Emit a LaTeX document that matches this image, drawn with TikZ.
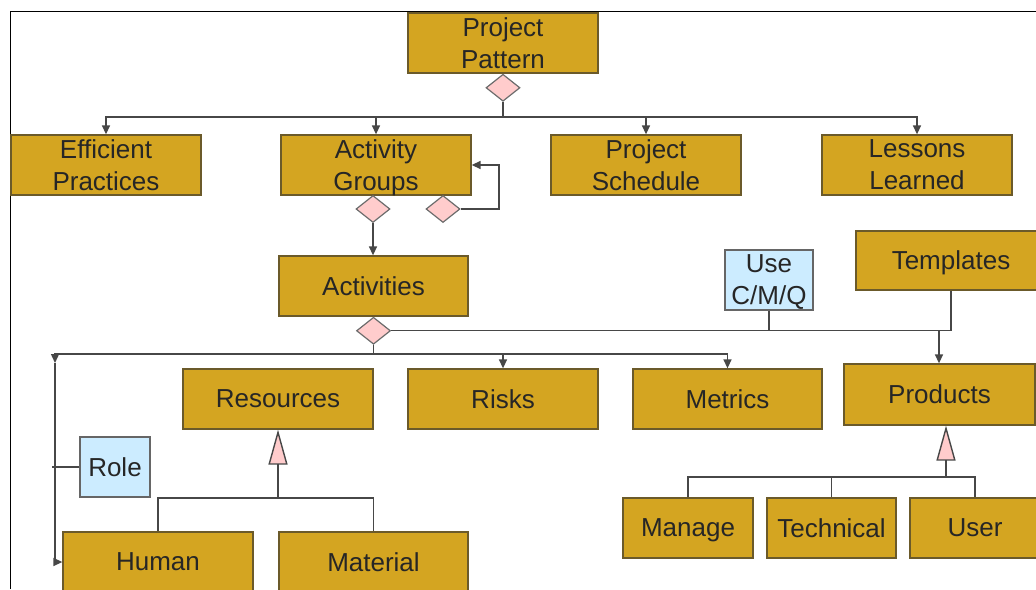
\documentclass[tikz,border=0pt]{standalone}
\usepackage{fontspec}
\setmainfont{Liberation Sans}
\usetikzlibrary{positioning,shapes.geometric,arrows.meta}
\definecolor{gold}{HTML}{D4A521}
\definecolor{goldedge}{HTML}{6B5A2A}
\definecolor{pinkd}{HTML}{FFCCCC}
\definecolor{bluebox}{HTML}{CCECFF}
\definecolor{linegray}{HTML}{474747}
\newcommand{\nodepth}[1]{\raisebox{0pt}[\height][0pt]{#1}}

\begin{document}
\begin{tikzpicture}[x=1pt,y=-1pt,font=\fontsize{26}{32}\selectfont,
        box/.style={draw=goldedge,fill=gold,line width=1.3pt,minimum width=190pt,minimum height=60pt,inner sep=0pt,align=center,text=black!85},
        note/.style={box,fill=bluebox,draw=gray!80!black},
        dia/.style={diamond,draw=linegray!80,fill=pinkd,line width=1.2pt,minimum width=34pt,minimum height=27pt,inner sep=0pt},
        wire/.style={draw=linegray,line width=1.4pt},
        arr/.style={wire,-{Triangle[length=9pt,width=8pt]}},
        gen/.style={wire,-{Triangle[length=35pt,width=19pt,fill=pinkd]}}]
    \useasboundingbox (0,0) rectangle (1036,589);
    \draw[line width=1pt] (10,589) -- (10,11) -- (1036,11);

    \node[box] (pattern) at (503,43) {Project\\Pattern};
    \node[dia,below=0pt of pattern] (d1) {};
    \node[box] (efficient) at (106,165) {Efficient\\Practices};
    \node[box] (actgroups) at (376,165) {Activity\\\nodepth{Groups}};
    \node[box] (schedule) at (646,165) {Project\\Schedule};
    \node[box] (lessons) at (917,165) {Lessons\\Learned};
    \node[dia] (d2a) at (373,209) {};
    \node[dia] (d2b) at (443,209) {};
    \node[box,minimum width=189pt] (activities) at (373.5,286) {Activities};
    \node[dia,below=0pt of activities] (d3) {};
    \node[note,minimum width=88pt] (usecmq) at (769,280) {Use\\\nodepth{C/M/Q}};
    \node[box,minimum height=59pt] (templates) at (951,260.5) {\nodepth{Templates}};
    \node[box] (resources) at (278,399) {Resources};
    \node[box] (risks) at (503,399) {Risks};
    \node[box,minimum width=189pt] (metrics) at (727.5,399) {Metrics};
    \node[box,minimum width=191pt,minimum height=61pt] (products) at (939.5,394.5) {Products};
    \node[note,minimum width=70pt] (role) at (115,467) {Role};
    \node[box] (human) at (158,562) {Human};
    \node[box,minimum width=189pt] (material) at (373.5,562) {Material};
    \node[box,minimum width=130pt] (manage) at (688,528) {\nodepth{Manage}};
    \node[box,minimum width=129pt] (technical) at (831.5,528) {Technical};
    \node[box,minimum width=130pt] (user) at (975,528) {User};

    \coordinate (tb) at (503,117);
    \coordinate (lp) at (499,209);
    \coordinate (jp) at (d3.east -| 939,0);
    \coordinate (bl) at (55,354);
    \coordinate (lt) at (55,363);
    \coordinate (rl) at (52,467);
    \coordinate (rj) at (278,498);
    \coordinate (pj) at (946,477);

    \draw[wire] (d1.south) -- (tb);
    \foreach \n in {efficient,actgroups,schedule,lessons}
        \draw[arr] (tb) -| (\n.north);
    \draw[arr] (d2a.south) -- (d2a.south |- activities.north);
    \draw[arr] (d2b.east) -- (lp) |- (actgroups.east);
    \draw[wire] (d3.east) -- (jp);
    \draw[wire] (templates.south) |- (jp);
    \draw[wire] (usecmq.south) -- (usecmq.south |- jp);
    \draw[arr] (jp) -- (jp |- products.north);
    \draw[arr] (d3.south) -- (d3.south |- bl) -- (bl) -- (lt);
    \draw[arr] (bl) -| (metrics.north);
    \draw[arr] (risks.north |- bl) -- (risks.north);
    \draw[arr] (lt) |- (human.west);
    \draw[wire] (role.west) -- (rl);
    \draw[gen] (rj) -- (resources.south);
    \draw[wire] (human.north) |- (rj) -| (material.north);
    \draw[gen] (pj) -- (pj |- products.south);
    \draw[wire] (manage.north) |- (pj) -| (user.north);
    \draw[wire] (technical.north) -- (technical.north |- pj);
\end{tikzpicture}
\end{document}
